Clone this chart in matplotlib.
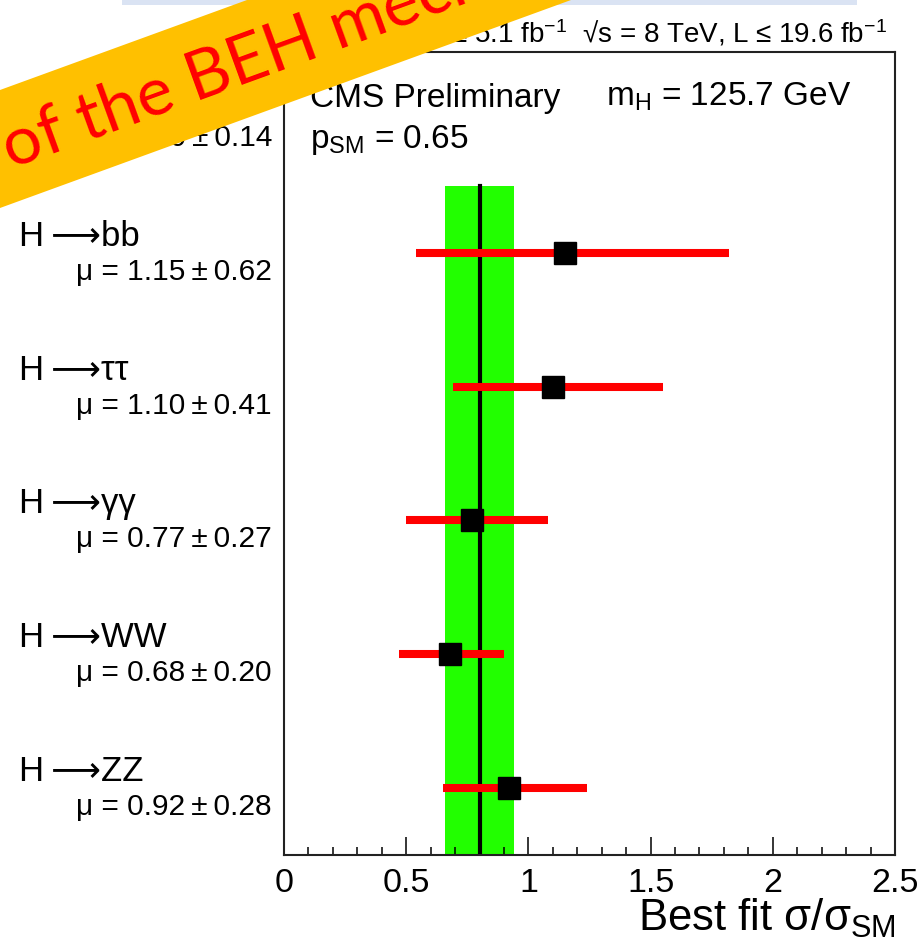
import matplotlib
matplotlib.use("Agg")
import matplotlib.pyplot as plt
from matplotlib.patches import Polygon, Rectangle
from matplotlib.transforms import blended_transform_factory, offset_copy
from matplotlib.ticker import MultipleLocator

plt.rcParams['font.family'] = ['Liberation Sans', 'DejaVu Sans']
plt.rcParams['mathtext.fontset'] = 'custom'
plt.rcParams['mathtext.rm'] = 'Liberation Sans'
plt.rcParams['mathtext.it'] = 'Liberation Sans:italic'

# Signal strength per decay channel (top to bottom), combined value on top
channels = ['H\u2009⟶bb', 'H\u2009⟶ττ', 'H\u2009⟶γγ', 'H\u2009⟶WW', 'H\u2009⟶ZZ']
mu = [1.15, 1.10, 0.77, 0.68, 0.92]
mu_err = [0.62, 0.41, 0.27, 0.20, 0.28]
err_lo = [0.61, 0.41, 0.27, 0.21, 0.27]
err_hi = [0.67, 0.45, 0.31, 0.22, 0.32]

combined_label = 'Combined'
mu_comb = 0.80
mu_comb_err = 0.14

W, H = 923, 950
fig = plt.figure(figsize=(W / 100, H / 100), dpi=100)
ax = fig.add_axes([284 / W, 1 - 855 / H, (895 - 284) / W, (855 - 52) / H])

n = len(channels)
rows = list(range(n - 1, -1, -1))   # bb at top row, ZZ at bottom
comb_row = n

# combined band and central value
ax.fill_betweenx([-0.5, n - 0.5], mu_comb - mu_comb_err, mu_comb + mu_comb_err,
                 color='#22ff00', lw=0, zorder=1)
ax.plot([mu_comb, mu_comb], [-0.5, n - 0.5], color='black', lw=3, zorder=2)

ax.errorbar(mu, rows, xerr=[err_lo, err_hi], fmt='s', color='black',
            ms=16.5, ecolor='red', elinewidth=5.8, capsize=0, zorder=3)

ax.set_xlim(0, 2.5)
ax.set_ylim(-0.5, n + 0.5)
ax.set_yticks([])
ax.xaxis.set_major_locator(MultipleLocator(0.5))
ax.xaxis.set_minor_locator(MultipleLocator(0.1))
ax.xaxis.set_major_formatter(plt.FuncFormatter(lambda v, p: f'{v:g}'))
ax.tick_params(axis='x', which='major', direction='in', length=13, width=1.1,
               labelsize=24.5, pad=9)
ax.tick_params(axis='x', which='minor', direction='in', length=5.8, width=1.1)
for sp in ax.spines.values():
    sp.set_linewidth(1.5)
    sp.set_color('#222222')

# channel names and fitted values to the left of the frame
tr = blended_transform_factory(fig.transFigure, ax.transData)
name_tr = offset_copy(tr, fig=fig, x=0, y=7, units='dots')
val_tr = offset_copy(tr, fig=fig, x=0, y=-27, units='dots')
for name, m, e, r in zip(channels, mu, mu_err, rows):
    ax.text(19 / W, r, name, transform=name_tr, ha='left', va='baseline',
            fontsize=25, clip_on=False)
    ax.text(272 / W, r, f'μ = {m:.2f}\u2009±\u2009{e:.2f}', transform=val_tr,
            ha='right', va='baseline', fontsize=21.5, clip_on=False)
ax.text(19 / W, comb_row, combined_label, transform=name_tr, ha='left',
        va='baseline', fontsize=25, clip_on=False)
ax.text(272 / W, comb_row, f'μ = {mu_comb:.2f}\u2009±\u2009{mu_comb_err:.2f}',
        transform=val_tr, ha='right', va='baseline', fontsize=21.5, clip_on=False)

# in-frame annotations
fig.text(310 / W, 1 - 107 / H, 'CMS Preliminary', fontsize=24, va='baseline')
fig.text(310 / W, 1 - 148 / H, r'p$_{\mathrm{SM}}$ = 0.65', fontsize=24, va='baseline')
fig.text(606 / W, 1 - 106 / H, r'm$_{\mathrm{H}}$ = 125.7 GeV', fontsize=24, va='baseline')
fig.text(887 / W, 1 - 43 / H,
         r'√s = 7 TeV, L ≤ 5.1 fb$^{\mathrm{-1}}$  √s = 8 TeV, L ≤ 19.6 fb$^{\mathrm{-1}}$',
         fontsize=20, ha='right', va='baseline')
fig.text(896 / W, 1 - 931 / H, r'Best fit σ/σ$_{\mathrm{SM}}$', fontsize=31.5,
         ha='right', va='baseline')

# slide decorations: title box edge and diagonal banner
fig.add_artist(Rectangle((122 / W, 1 - 5 / H), (857 - 122) / W, 5 / H,
                         transform=fig.transFigure, color='#dae3f3', lw=0, zorder=4))
banner = [(0, 90), (247, 0), (571, 0), (0, 208)]
fig.add_artist(Polygon([(x / W, 1 - y / H) for x, y in banner], closed=True,
                       transform=fig.transFigure, color='#ffc000', lw=0, zorder=5))
fig.text(11 / W, 1 - 169 / H, 'of the BEH mechanism', color='red',
         family=['Lato', 'DejaVu Sans'], fontsize=49, rotation=20,
         rotation_mode='anchor', ha='left', va='baseline', zorder=6)

fig.savefig('out.png', dpi=100)
